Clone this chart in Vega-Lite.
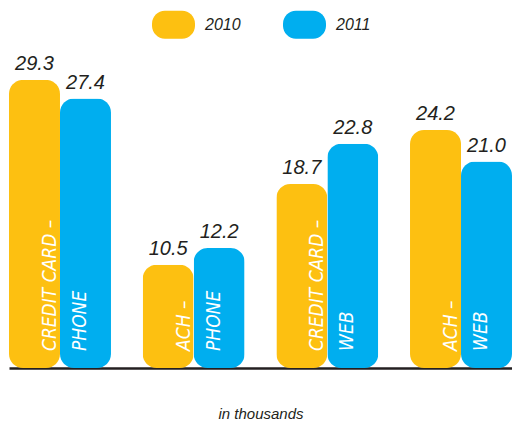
{
  "$schema": "https://vega.github.io/schema/vega-lite/v6.json",
  "width": 503,
  "height": 295,
  "autosize": {"type": "none"},
  "padding": {"left": 9, "top": 73, "right": 0, "bottom": 65},
  "config": {"view": {"stroke": null}},
  "data": {
    "values": [
      {"group": "CC-Phone", "year": "2010", "value": 29.3, "part": "CREDIT CARD –"},
      {"group": "CC-Phone", "year": "2011", "value": 27.4, "part": "PHONE"},
      {"group": "ACH-Phone", "year": "2010", "value": 10.5, "part": "ACH –"},
      {"group": "ACH-Phone", "year": "2011", "value": 12.2, "part": "PHONE"},
      {"group": "CC-Web", "year": "2010", "value": 18.7, "part": "CREDIT CARD –"},
      {"group": "CC-Web", "year": "2011", "value": 22.8, "part": "WEB"},
      {"group": "ACH-Web", "year": "2010", "value": 24.2, "part": "ACH –"},
      {"group": "ACH-Web", "year": "2011", "value": 21.0, "part": "WEB"}
    ]
  },
  "encoding": {
    "x": {
      "field": "group",
      "type": "nominal",
      "sort": ["CC-Phone", "ACH-Phone", "CC-Web", "ACH-Web"],
      "scale": {"paddingInner": 0.237, "paddingOuter": 0},
      "axis": {
        "labels": false,
        "ticks": false,
        "domain": true,
        "domainColor": "#231F20",
        "domainWidth": 2.5,
        "title": "in thousands",
        "titleFont": "Liberation Sans",
        "titleFontStyle": "italic",
        "titleFontWeight": "normal",
        "titleFontSize": 15,
        "titleColor": "#231F20",
        "titlePadding": 38
      }
    }
  },
  "layer": [
    {
      "mark": {"type": "bar", "cornerRadius": 14},
      "encoding": {
        "xOffset": {"field": "year", "type": "nominal", "scale": {"padding": 0}},
        "y": {"field": "value", "type": "quantitative", "scale": {"domain": [0, 30], "nice": false}, "axis": null},
        "color": {
          "field": "year",
          "type": "nominal",
          "scale": {"domain": ["2010", "2011"], "range": ["#FDC011", "#00AEEF"]},
          "legend": {
            "orient": "none",
            "legendX": 143,
            "legendY": -70,
            "direction": "horizontal",
            "title": null,
            "symbolType": "M -0.4,-0.65 L 0.4,-0.65 A 0.6,0.6 0 0 1 1,-0.05 L 1,0.05 A 0.6,0.6 0 0 1 0.4,0.65 L -0.4,0.65 A 0.6,0.6 0 0 1 -1,0.05 L -1,-0.05 A 0.6,0.6 0 0 1 -0.4,-0.65 Z",
            "symbolSize": 1849,
            "symbolStrokeWidth": 0,
            "symbolOpacity": 1,
            "labelFont": "Liberation Sans",
            "labelFontStyle": "italic",
            "labelFontSize": 16,
            "labelColor": "#231F20",
            "labelOffset": 10,
            "columnPadding": 42
          }
        }
      }
    },
    {
      "mark": {"type": "text", "font": "Liberation Sans", "fontStyle": "italic", "fontSize": 20, "color": "#231F20", "baseline": "alphabetic", "dy": -10},
      "encoding": {
        "xOffset": {"field": "year", "type": "nominal", "scale": {"padding": 0}},
        "y": {"field": "value", "type": "quantitative"},
        "text": {"field": "value", "type": "quantitative", "format": ".1f"}
      }
    },
    {
      "transform": [{"filter": "datum.year === '2010'"}],
      "mark": {"type": "text", "font": "DejaVu Sans Condensed, Liberation Sans", "fontStyle": "italic", "fontSize": 19, "color": "white", "angle": 270, "align": "left", "baseline": "alphabetic", "dx": 17, "dy": -4},
      "encoding": {
        "y": {"datum": 0, "type": "quantitative"},
        "text": {"field": "part", "type": "nominal"}
      }
    },
    {
      "transform": [{"filter": "datum.year === '2011'"}],
      "mark": {"type": "text", "font": "DejaVu Sans Condensed, Liberation Sans", "fontStyle": "italic", "fontSize": 19, "color": "white", "angle": 270, "align": "left", "baseline": "alphabetic", "dx": 17, "dy": 26},
      "encoding": {
        "y": {"datum": 0, "type": "quantitative"},
        "text": {"field": "part", "type": "nominal"}
      }
    }
  ]
}
